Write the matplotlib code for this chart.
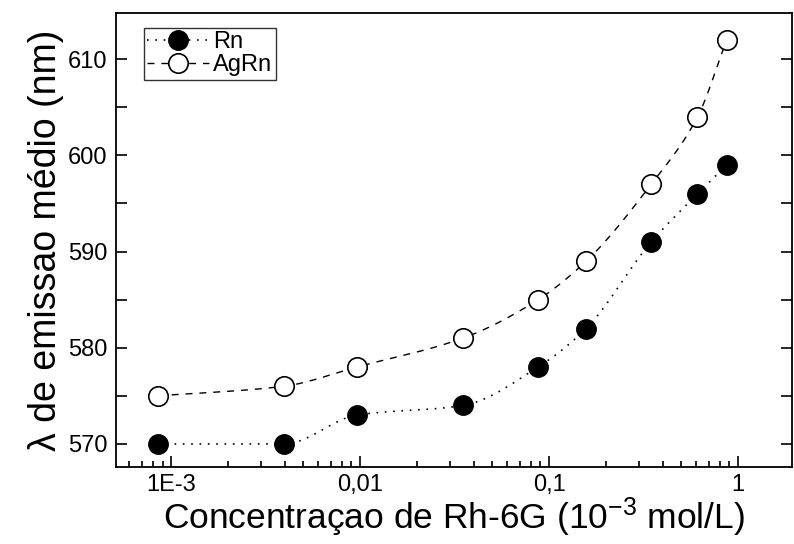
import numpy as np
import matplotlib
matplotlib.use("Agg")
import matplotlib.pyplot as plt
from matplotlib.ticker import FixedLocator, MultipleLocator, NullFormatter

plt.rcParams['font.family'] = ['Liberation Sans', 'DejaVu Sans']
plt.rcParams['mathtext.fontset'] = 'custom'
plt.rcParams['mathtext.rm'] = 'Liberation Sans'
plt.rcParams['mathtext.it'] = 'Liberation Sans'

conc = [0.00085, 0.00396, 0.0096, 0.035, 0.0875, 0.157, 0.347, 0.61, 0.87]
rn = [570, 570, 573, 574, 578, 582, 591, 596, 599]
agrn = [575, 576, 578, 581, 585, 589, 597, 604, 612]
xticks = [0.001, 0.01, 0.1, 1]
xticklabels = ['1E-3', '0,01', '0,1', '1']
yticks = [570, 580, 590, 600, 610]


def smooth(xs, ys, n=400):
    # monotone cubic (PCHIP) connector through the points in (log10 x, y) space
    u = np.log10(np.asarray(xs, float))
    y = np.asarray(ys, float)
    h = np.diff(u)
    d = np.diff(y) / h
    m = np.zeros_like(y)
    for i in range(1, len(y) - 1):
        if d[i - 1] * d[i] > 0:
            w1 = 2 * h[i] + h[i - 1]
            w2 = h[i] + 2 * h[i - 1]
            m[i] = (w1 + w2) / (w1 / d[i - 1] + w2 / d[i])
    m[0] = d[0] if d[0] > 0 else 0.0
    m[-1] = d[-1]
    uu = np.linspace(u[0], u[-1], n)
    idx = np.clip(np.searchsorted(u, uu) - 1, 0, len(u) - 2)
    hh = h[idx]
    t = (uu - u[idx]) / hh
    h00 = 2 * t**3 - 3 * t**2 + 1
    h10 = t**3 - 2 * t**2 + t
    h01 = -2 * t**3 + 3 * t**2
    h11 = t**3 - t**2
    yy = h00 * y[idx] + h10 * hh * m[idx] + h01 * y[idx + 1] + h11 * hh * m[idx + 1]
    return 10 ** uu, yy


fig = plt.figure(figsize=(7.94, 5.44), dpi=100)
ax = fig.add_axes([0.146, 0.1415, 0.8515, 0.8345])

dot = (0, (1, 4))
dash = (0, (5, 5))

sx, sy = smooth(conc, rn)
ax.plot(sx, sy, color='black', linestyle=dot, linewidth=1.2)
sx2, sy2 = smooth(conc, agrn)
ax.plot(sx2, sy2, color='black', linestyle=dash, linewidth=1.0)

ax.plot(conc, rn, linestyle='none', marker='o', markersize=14,
        markerfacecolor='black', markeredgecolor='black')
ax.plot(conc, agrn, linestyle='none', marker='o', markersize=14,
        markerfacecolor='white', markeredgecolor='black', markeredgewidth=1.2)

# legend proxies
ax.plot([], [], color='black', linestyle=dot, linewidth=1.2, marker='o',
        markersize=14, markerfacecolor='black', markeredgecolor='black', label='Rn')
ax.plot([], [], color='black', linestyle=dash, linewidth=1.0, marker='o',
        markersize=14, markerfacecolor='white', markeredgecolor='black',
        markeredgewidth=1.2, label='AgRn')

ax.set_xscale('log')
ax.set_xlim(0.00051, 1.93)
ax.set_ylim(567.6, 614.8)
ax.xaxis.set_major_locator(FixedLocator(xticks))
ax.set_xticklabels(xticklabels)
ax.xaxis.set_minor_formatter(NullFormatter())
ax.set_yticks(yticks)
ax.yaxis.set_minor_locator(MultipleLocator(5))

ax.tick_params(axis='both', which='both', direction='in', labelsize=17,
               width=1.2, top=False, right=True)
ax.tick_params(axis='x', which='major', length=8, pad=5)
ax.tick_params(axis='x', which='minor', length=4)
ax.tick_params(axis='y', which='both', length=8, pad=6)

for s in ax.spines.values():
    s.set_linewidth(1.3)

ax.set_xlabel('Concentraçao de Rh-6G (10$^{\\mathregular{-3}}$ mol/L)', fontsize=25.5, labelpad=0)
ax.set_ylabel('λ de emissao médio (nm)', fontsize=27, labelpad=3)

leg = ax.legend(loc='upper left', bbox_to_anchor=(0.041, 0.968), fontsize=17,
                frameon=True, fancybox=False, edgecolor='black', handlelength=2.6,
                handletextpad=0.2, borderpad=0.15, labelspacing=0.05, borderaxespad=0)
leg.get_frame().set_linewidth(1.0)

fig.savefig('out.png', dpi=100)
